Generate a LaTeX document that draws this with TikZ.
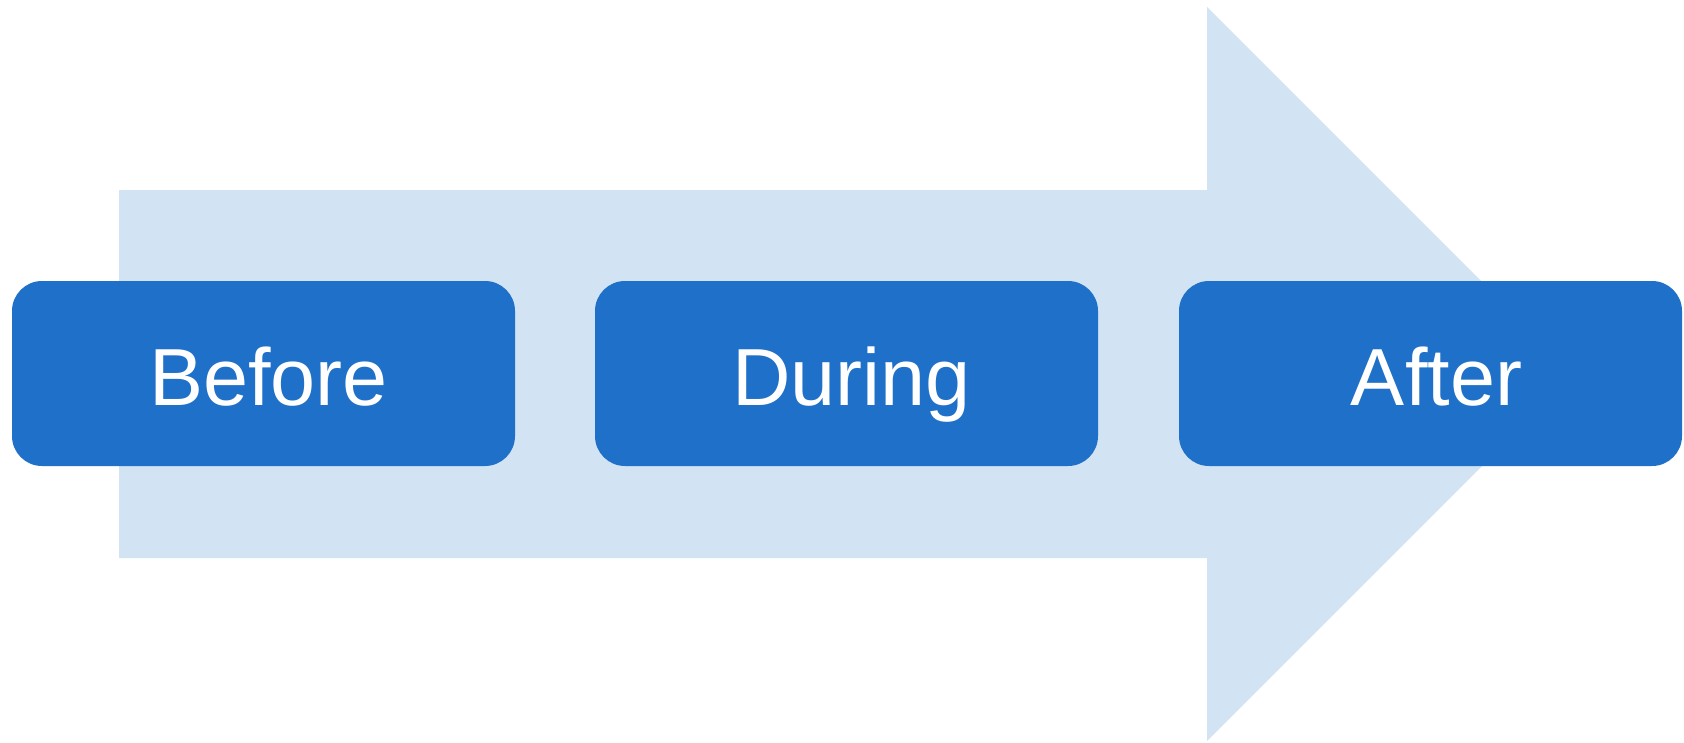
\documentclass[tikz,border=0pt]{standalone}
\usepackage{fontspec}
\setmainfont{Liberation Sans}
\definecolor{lightarrow}{RGB}{210,227,243}
\definecolor{boxblue}{RGB}{30,112,200}
\tikzset{
  phasebox/.style={draw=none, fill=boxblue, rounded corners=30pt, minimum width=503pt, minimum height=185pt, inner sep=0pt},
  phasetext/.style={text=white, font=\fontsize{81}{97}\selectfont, inner sep=0pt, anchor=base},
}
\begin{document}
\begin{tikzpicture}[x=1pt,y=-1pt]
\useasboundingbox (0,0) rectangle (1684,742);
\fill[lightarrow] (119,190) -- (1207,190) -- (1207,7) -- (1574,374) -- (1207,741) -- (1207,558) -- (119,558) -- cycle;
\node[phasebox] (before) at (263.5,373.5) {};
\node[phasebox] (during) at (846.5,373.5) {};
\node[phasebox] (after) at (1430.5,373.5) {};
\node[phasetext] (beforetext) at ([xshift=5pt,yshift=-31.5pt]before.center) {Before};
\node[phasetext] (duringtext) at ([xshift=5pt,yshift=-31.5pt]during.center) {During};
\node[phasetext] (aftertext) at ([xshift=6pt,yshift=-31.5pt]after.center) {After};
\end{tikzpicture}
\end{document}
